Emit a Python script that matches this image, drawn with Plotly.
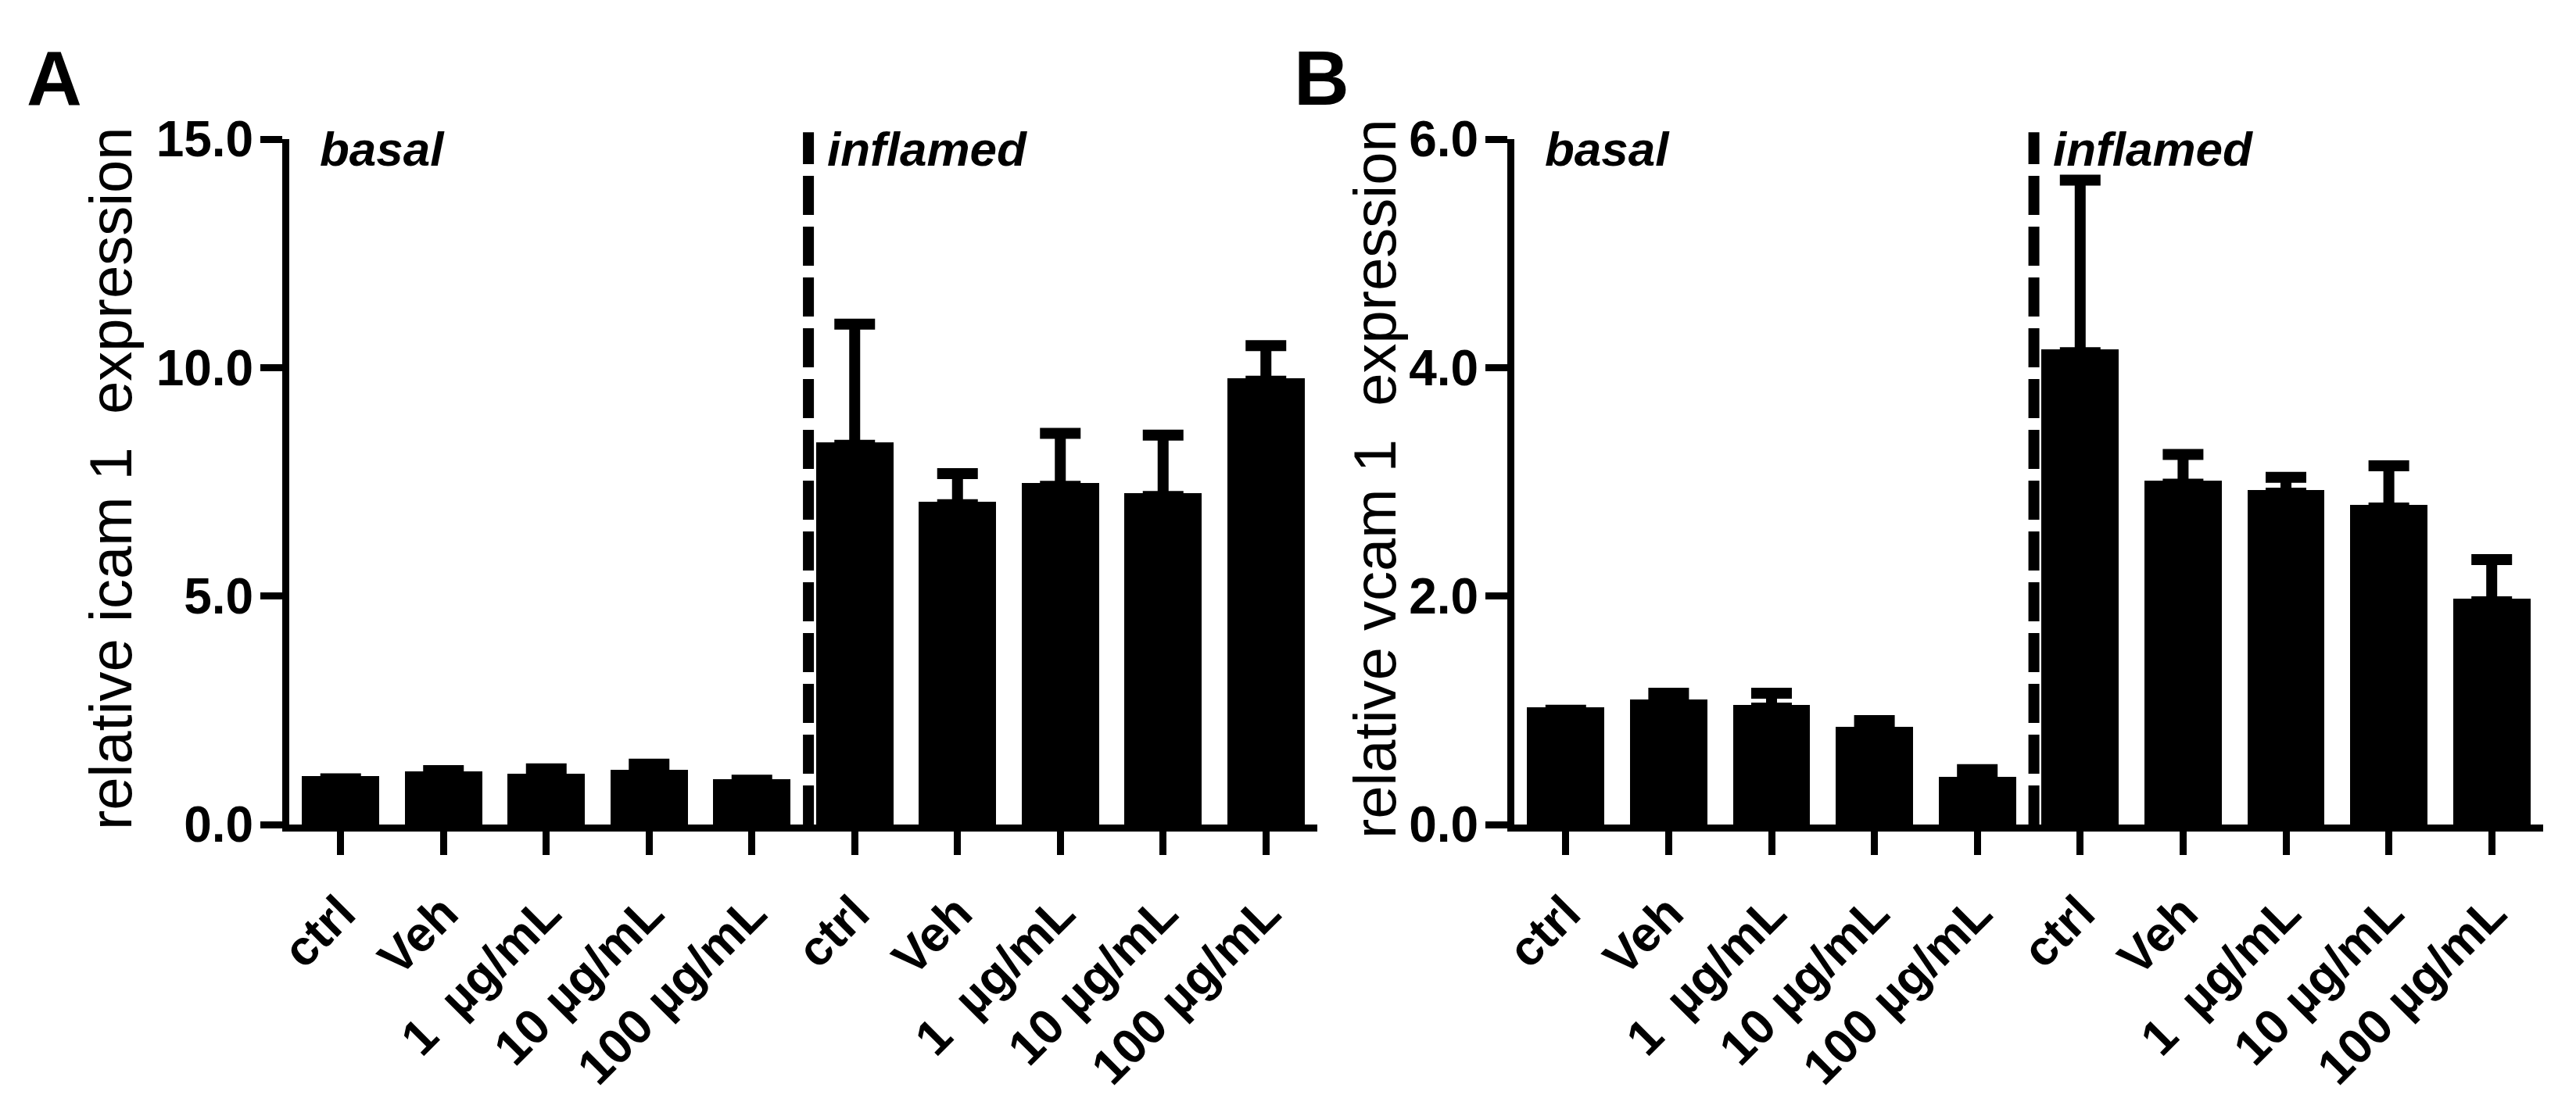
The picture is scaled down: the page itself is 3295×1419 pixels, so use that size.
import plotly.graph_objects as go

# bar labels (same order in both panels), basal first then inflamed
group_labels = ["ctrl", "Veh", "1\u00a0 µg/mL", "10 µg/mL", "100 µg/mL"]
bar_labels = group_labels + group_labels
bar_pos = list(range(len(bar_labels)))

# panel A: relative icam 1 expression (mean, upper error)
icam_mean = [1.00, 1.09, 1.05, 1.13, 0.92, 8.30, 7.00, 7.40, 7.18, 9.70]
icam_err = [0.00, 0.09, 0.17, 0.19, 0.05, 2.65, 0.68, 1.16, 1.34, 0.78]

# panel B: relative vcam 1 expression (mean, upper error)
vcam_mean = [1.00, 1.07, 1.02, 0.83, 0.39, 4.13, 2.98, 2.90, 2.77, 1.95]
vcam_err = [0.00, 0.08, 0.13, 0.08, 0.09, 1.51, 0.26, 0.14, 0.37, 0.37]

icam_ticks = [0, 5, 10, 15]
vcam_ticks = [0, 2, 4, 6]

W, H = 3295, 1419
FONT = "Liberation Sans, Arial, sans-serif"
DIVIDER = 4.55  # between basal and inflamed groups

# plot areas in pixels of the page
Y_TOP, Y_BOT = 170, 1047
A_X = (362, 1677)
B_X = (1929, 3245)


def px_x(p):
    return p / W


def px_y(p):
    return 1 - p / H


fig = go.Figure()

panels = [
    ("x", "y", icam_mean, icam_err),
    ("x2", "y2", vcam_mean, vcam_err),
]
for xa, ya, mean, err in panels:
    fig.add_trace(go.Bar(
        x=bar_pos, y=mean, width=0.69,
        xaxis=xa, yaxis=ya,
        marker=dict(color="black", line=dict(color="black", width=8)),
        error_y=dict(type="data", array=err, arrayminus=[0] * len(err),
                     symmetric=False, color="black", thickness=14, width=26),
        showlegend=False,
    ))

axis_common = dict(
    showline=True, linewidth=9, linecolor="black",
    ticks="outside", tickwidth=9, tickcolor="black",
    showgrid=False, zeroline=False, automargin=False,
)

xcommon = dict(axis_common, range=[-0.5, 9.5], tickvals=bar_pos, ticktext=bar_labels,
               tickangle=-45, ticklen=30, ticklabelstandoff=12,
               tickfont=dict(family=FONT, size=63, color="black", weight="bold"))

ycommon = dict(axis_common, ticklen=28, tickformat=".1f", ticklabelstandoff=-4,
               tickfont=dict(family=FONT, size=64, color="black", weight="bold"))

fig.update_layout(
    width=W, height=H,
    margin=dict(l=0, r=0, t=0, b=0),
    paper_bgcolor="white", plot_bgcolor="white",
    bargap=0,
    xaxis=dict(xcommon, domain=[px_x(A_X[0]), px_x(A_X[1])], anchor="y"),
    xaxis2=dict(xcommon, domain=[px_x(B_X[0]), px_x(B_X[1])], anchor="y2"),
    yaxis=dict(ycommon, domain=[px_y(Y_BOT), px_y(Y_TOP)], anchor="x",
               range=[0, 15], tickvals=icam_ticks),
    yaxis2=dict(ycommon, domain=[px_y(Y_BOT), px_y(Y_TOP)], anchor="x2",
                range=[0, 6], tickvals=vcam_ticks),
)

# y axis titles, placed by hand like the original export
title_font = dict(family=FONT, size=76, color="black")
for text, xc, yr in [("relative icam 1\u00a0 expression", 133, "y"),
                     ("relative vcam 1\u00a0 expression", 1750, "y2")]:
    fig.add_annotation(text=text, textangle=-90, xref="paper", yref=yr + " domain",
                       x=px_x(xc), y=0.505, xanchor="center", yanchor="middle",
                       showarrow=False, font=title_font)

# dashed divider between basal and inflamed
for xr, yr in [("x", "y"), ("x2", "y2")]:
    fig.add_shape(type="line", xref=xr, yref=yr + " domain",
                  x0=DIVIDER, x1=DIVIDER, y0=0, y1=1.01,
                  line=dict(color="black", width=14, dash="50px,15px"))

group_font = dict(family=FONT, size=62, color="black", weight="bold", style="italic")
for xr, yr in [("x", "y"), ("x2", "y2")]:
    fig.add_annotation(text="basal", xref=xr + " domain", yref=yr + " domain",
                       x=0.028, y=1, yshift=24, xanchor="left", yanchor="top",
                       showarrow=False, font=group_font)
    fig.add_annotation(text="inflamed", xref=xr, yref=yr + " domain",
                       x=DIVIDER + 0.17, y=1, yshift=24, xanchor="left", yanchor="top",
                       showarrow=False, font=group_font)

letter_font = dict(family=FONT, size=98, color="black", weight="bold")
fig.add_annotation(text="A", xref="paper", yref="paper", x=px_x(24), y=px_y(35),
                   xanchor="left", yanchor="top", showarrow=False, font=letter_font)
fig.add_annotation(text="B", xref="paper", yref="paper", x=px_x(1645), y=px_y(35),
                   xanchor="left", yanchor="top", showarrow=False, font=letter_font)

fig.write_html("out.html")
